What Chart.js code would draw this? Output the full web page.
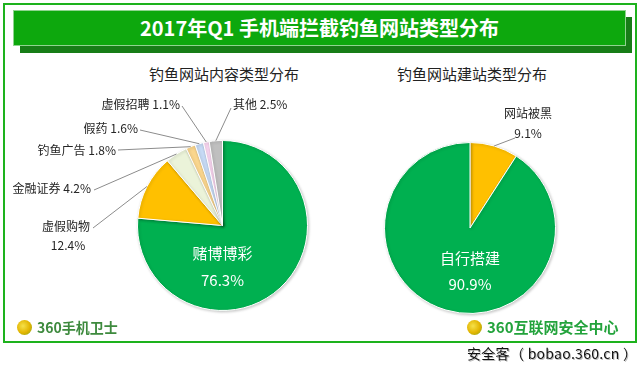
<!DOCTYPE html>
<html>
<head>
<meta charset="utf-8">
<script src="https://cdn.jsdelivr.net/npm/chart.js@4.4.1/dist/chart.umd.min.js"></script>
<style>
  body { margin: 0; width: 639px; height: 371px; background: #fff; position: relative; overflow: hidden;
         font-family: "Noto Sans CJK SC", "Noto Sans", sans-serif; }
  .frame { position: absolute; left: 3px; top: 3px; width: 630px; height: 336px; border: 2px solid #1DB21D; }
  .bar-shadow { position: absolute; left: 20px; top: 17px; width: 612px; height: 36px; background: #177D17; }
  .bar { position: absolute; left: 13px; top: 10px; width: 611px; height: 34px; background: #0DA80D;
         border: 1px solid #8FD48F; color: #fff; font-weight: bold; font-size: 20px; line-height: 34px; text-align: center; }
  .sub { position: absolute; top: 63px; font-size: 15px; color: #222; width: 250px; text-align: center; }
  .logo { position: absolute; top: 318px; font-weight: bold; font-size: 14px; line-height: 18px; }
  .dot { display: inline-block; width: 15px; height: 15px; border-radius: 50%; vertical-align: -2px; margin-right: 5px;
         background: radial-gradient(circle at 40% 40%, #F6E14A 0, #E2B400 55%, #6FA52A 100%); }
  .mark { position: absolute; left: 467px; top: 343px; font-size: 14px; color: #111; letter-spacing: 0.3px;
          text-shadow: 1px 1px 0 #bbb; }
  canvas { position: absolute; }
</style>
</head>
<body>
<div class="frame"></div>
<div class="bar-shadow"></div>
<div class="bar">2017年Q1 手机端拦截钓鱼网站类型分布</div>
<div class="sub" style="left:99px">钓鱼网站内容类型分布</div>
<div class="sub" style="left:347px">钓鱼网站建站类型分布</div>
<canvas id="left" width="320" height="270" style="left:0;top:60px"></canvas>
<canvas id="right" width="319" height="270" style="left:320px;top:60px"></canvas>
<div class="logo" style="left:17px;color:#3E8A3E"><span class="dot"></span>360手机卫士</div>
<div class="logo" style="left:467px;color:#23A33C;font-size:15px"><span class="dot"></span>360互联网安全中心</div>
<div class="mark">安全客（ bobao.360.cn ）</div>
<script>
// 内容类型
const contentCats = ['赌博博彩', '虚假购物', '金融证券', '钓鱼广告', '假药', '虚假招聘', '其他'];
const contentVals = [76.3, 12.4, 4.2, 1.8, 1.6, 1.1, 2.5];
const contentColors = ['#00B050', '#FFC000', '#EBF3D9', '#FAD68E', '#C6DAF5', '#FAD7F2', '#BFBFBF'];

// 建站类型
const buildCats = ['网站被黑', '自行搭建'];
const buildVals = [9.1, 90.9];
const buildColors = ['#FFC000', '#00B050'];

// label layout, page coords: text lines at [x, y], leader starts at `from`
const contentLabels = [
  { i: 0, inside: [28, 55] },
  { i: 1, split: true, at: [[90, 226, 'right'], [68, 245, 'center']], from: [93, 228] },
  { i: 2, at: [[91, 188, 'right']], from: [94, 190] },
  { i: 3, at: [[116, 150, 'right']], from: [118, 150] },
  { i: 4, at: [[138, 128, 'right']], from: [140, 130] },
  { i: 5, at: [[180, 104, 'right']], from: [182, 106] },
  { i: 6, at: [[233, 104, 'left']], from: [231, 108] }
];
const buildLabels = [
  { i: 0, split: true, at: [[528, 113, 'center'], [528, 133, 'center']], from: [515, 138] },
  { i: 1, inside: [30, 56] }
];

const labelPlugin = {
  id: 'pieLabels',
  beforeDatasetsDraw(chart) {
    const ctx = chart.ctx;
    ctx.save();
    ctx.shadowColor = 'rgba(0,0,0,0.22)';
    ctx.shadowBlur = 3;
    ctx.shadowOffsetX = 1;
    ctx.shadowOffsetY = 1;
  },
  afterDatasetsDraw(chart, args, opts) {
    const ctx = chart.ctx;
    ctx.restore();
    const arcs = chart.getDatasetMeta(0).data;
    const cats = chart.data.labels;
    const vals = chart.data.datasets[0].data;
    const [ox, oy] = opts.offset;
    ctx.save();
    ctx.textBaseline = 'middle';
    opts.labels.forEach(l => {
      const a = arcs[l.i].getProps(['x', 'y', 'startAngle', 'endAngle', 'outerRadius'], true);
      const name = cats[l.i], pct = vals[l.i].toFixed(1) + '%';
      if (l.inside) {
        ctx.fillStyle = '#fff';
        ctx.font = '15px "Noto Sans CJK SC"';
        ctx.textAlign = 'center';
        ctx.fillText(name, a.x, a.y + l.inside[0]);
        ctx.fillText(pct, a.x, a.y + l.inside[1]);
        return;
      }
      const mid = (a.startAngle + a.endAngle) / 2;
      ctx.strokeStyle = '#8C8C8C';
      ctx.lineWidth = 1;
      ctx.beginPath();
      ctx.moveTo(l.from[0] - ox, l.from[1] - oy);
      ctx.lineTo(a.x + Math.cos(mid) * a.outerRadius, a.y + Math.sin(mid) * a.outerRadius);
      ctx.stroke();
      ctx.fillStyle = '#262626';
      ctx.font = '12px "Noto Sans CJK SC"';
      const lines = l.split ? [name, pct] : [name + ' ' + pct];
      lines.forEach((t, k) => {
        const [x, y, al] = l.at[k];
        ctx.textAlign = al;
        ctx.fillText(t, x - ox, y - oy);
      });
    });
    ctx.restore();
  }
};

function makePie(id, cats, vals, colors, labels, offset, padding) {
  return new Chart(document.getElementById(id), {
    type: 'pie',
    data: {
      labels: cats,
      datasets: [{ data: vals, backgroundColor: colors, borderColor: '#fff', borderWidth: 1 }]
    },
    options: {
      responsive: false,
      animation: false,
      layout: { padding: padding },
      plugins: {
        legend: { display: false },
        tooltip: { enabled: false },
        pieLabels: { labels: labels, offset: offset }
      }
    },
    plugins: [labelPlugin]
  });
}

makePie('left', contentCats, contentVals, contentColors, contentLabels, [0, 60],
  { left: 137, right: 12, top: 80, bottom: 19 });
makePie('right', buildCats, buildVals, buildColors, buildLabels, [320, 60],
  { left: 64, right: 83, top: 82, bottom: 16 });
</script>
</body>
</html>
